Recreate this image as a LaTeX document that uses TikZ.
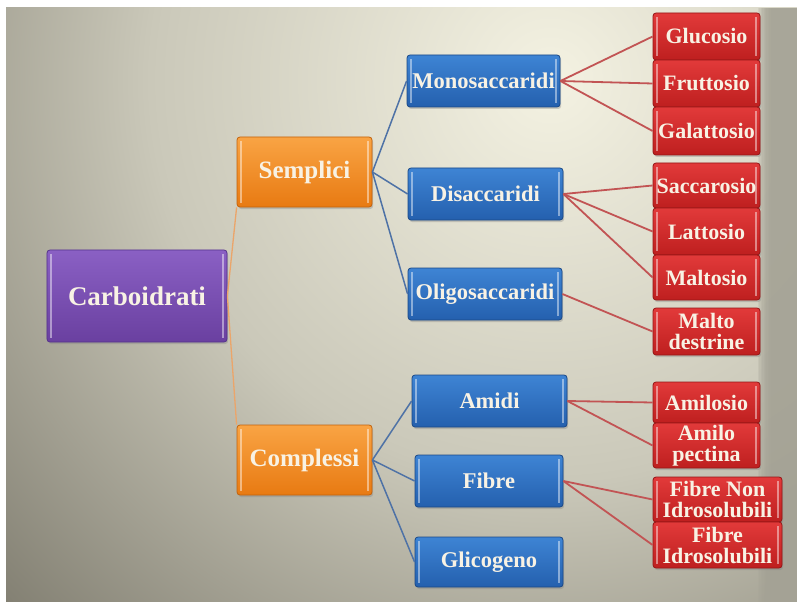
\documentclass[tikz,border=0pt]{standalone}
\usepackage{fontspec}
\setmainfont{Liberation Serif}
\usetikzlibrary{shadows}
\definecolor{bgin}{HTML}{F4F2E2}
\definecolor{bgmid}{HTML}{CAC8B9}
\definecolor{bgout}{HTML}{7A776A}
\definecolor{bandgray}{HTML}{A4A295}
\definecolor{txt}{HTML}{F8F2E4}
\definecolor{purT}{HTML}{8A60C4}\definecolor{purB}{HTML}{6A40A0}\definecolor{purD}{HTML}{56338C}
\definecolor{oraT}{HTML}{F9A444}\definecolor{oraB}{HTML}{E87A12}\definecolor{oraD}{HTML}{C2620C}
\definecolor{bluT}{HTML}{3E84D4}\definecolor{bluB}{HTML}{2460AE}\definecolor{bluD}{HTML}{1A4886}
\definecolor{redT}{HTML}{E23A3A}\definecolor{redB}{HTML}{BE1F1F}\definecolor{redD}{HTML}{951616}
\definecolor{lnO}{HTML}{EBA56A}
\definecolor{lnB}{HTML}{4E72A6}
\definecolor{lnR}{HTML}{C25454}
\pgfdeclareradialshading{bgshade}{\pgfpoint{0bp}{0bp}}{color(0bp)=(bgin); color(12.5bp)=(bgmid); color(25bp)=(bgout); color(50bp)=(bgout)}
\tikzset{
  box/.style={draw, line width=0.8bp, rounded corners=3bp, inner sep=0bp, align=center,
    text=txt, font=\bfseries,
    drop shadow={opacity=0.35, shadow xshift=1.2bp, shadow yshift=-2bp},
    path picture={
      \draw[white, opacity=0.45, line width=1.2bp]
        ([xshift=4bp,yshift=-4bp]path picture bounding box.north west) --
        ([xshift=4bp,yshift=4bp]path picture bounding box.south west);
      \draw[white, opacity=0.45, line width=1.2bp]
        ([xshift=-4bp,yshift=-4bp]path picture bounding box.north east) --
        ([xshift=-4bp,yshift=4bp]path picture bounding box.south east);
    }},
  rootbox/.style={box, top color=purT, bottom color=purB, draw=purD,
    minimum width=180bp, minimum height=92bp, font=\bfseries\fontsize{27bp}{27bp}\selectfont},
  midbox/.style={box, top color=oraT, bottom color=oraB, draw=oraD,
    minimum width=135bp, minimum height=70bp, font=\bfseries\fontsize{25bp}{25bp}\selectfont},
  subbox/.style={box, top color=bluT, bottom color=bluB, draw=bluD,
    minimum height=52bp, font=\bfseries\fontsize{22.5bp}{22.5bp}\selectfont},
  leafbox/.style={box, top color=redT, bottom color=redB, draw=redD,
    minimum width=107bp, font=\bfseries\fontsize{22bp}{21bp}\selectfont},
  lineO/.style={draw=lnO, line width=1.3bp},
  lineB/.style={draw=lnB, line width=1.5bp},
  lineR/.style={draw=lnR, line width=1.8bp}
}
\begin{document}
\begin{tikzpicture}[x=1bp,y=-1bp]
\useasboundingbox (0,0) rectangle (797,602);
\fill[white] (0,0) rectangle (797,602);
\begin{scope}
  \clip (6,8) rectangle (797,602);
  \shade[shading=bgshade] (550,80) circle (800);
  \foreach \i in {0,...,9} {
    \fill[bandgray, opacity=0.2] (758+\i*1.4,8) rectangle (797,602);
  }
\end{scope}

% nodes
\node[rootbox] (carb) at (137,296) {Carboidrati};
\node[midbox] (semp) at (304.5,172) {Semplici};
\node[midbox] (comp) at (304.5,460) {Complessi};

\node[subbox, minimum width=153bp] (mono) at (483.5,81) {Monosaccaridi};
\node[subbox, minimum width=155bp] (disa) at (485.5,194) {Disaccaridi};
\node[subbox, minimum width=154bp] (olig) at (485,294) {Oligosaccaridi};
\node[subbox, minimum width=155bp] (amid) at (489.5,401) {Amidi};
\node[subbox, minimum width=148bp] (fibr) at (489,481) {Fibre};
\node[subbox, minimum width=148bp, minimum height=50bp] (glic) at (489,562) {Glicogeno};

\node[leafbox, minimum height=47bp] (gluc) at (706.5,36.5) {Glucosio};
\node[leafbox, minimum height=47bp] (frut) at (706.5,83.5) {Fruttosio};
\node[leafbox, minimum height=48bp] (gala) at (706.5,131) {Galattosio};
\node[leafbox, minimum height=45bp] (sacc) at (706.5,185.5) {Saccarosio};
\node[leafbox, minimum height=47bp] (latt) at (706.5,231.5) {Lattosio};
\node[leafbox, minimum height=45bp] (malt) at (706.5,277.5) {Maltosio};
\node[leafbox, minimum height=47bp] (mdes) at (706.5,331.5) {Malto\\destrine};
\node[leafbox, minimum height=41bp] (amil) at (706.5,402.5) {Amilosio};
\node[leafbox, minimum height=45bp] (amip) at (706.5,445.5) {Amilo\\pectina};
\node[leafbox, minimum width=129bp, minimum height=45bp] (fnid) at (717.5,499.5) {Fibre Non\\Idrosolubili};
\node[leafbox, minimum width=129bp, minimum height=46bp] (fid) at (717.5,545) {Fibre\\Idrosolubili};

% connectors
\path[lineO] (carb.east) -- (semp.south west);
\path[lineO] (carb.east) -- (comp.north west);

\path[lineB] (semp.east) -- (mono.west);
\path[lineB] (semp.east) -- (disa.west);
\path[lineB] (semp.east) -- (olig.west);
\path[lineB] (comp.east) -- (amid.west);
\path[lineB] (comp.east) -- (fibr.west);
\path[lineB] (comp.east) -- (glic.west);

\path[lineR] (mono.east) -- (gluc.west);
\path[lineR] (mono.east) -- (frut.west);
\path[lineR] (mono.east) -- (gala.west);
\path[lineR] (disa.east) -- (sacc.west);
\path[lineR] (disa.east) -- (latt.west);
\path[lineR] (disa.east) -- (malt.west);
\path[lineR] (olig.east) -- (mdes.west);
\path[lineR] (amid.east) -- (amil.west);
\path[lineR] (amid.east) -- (amip.west);
\path[lineR] (fibr.east) -- (fnid.west);
\path[lineR] (fibr.east) -- (fid.west);
\end{tikzpicture}
\end{document}
